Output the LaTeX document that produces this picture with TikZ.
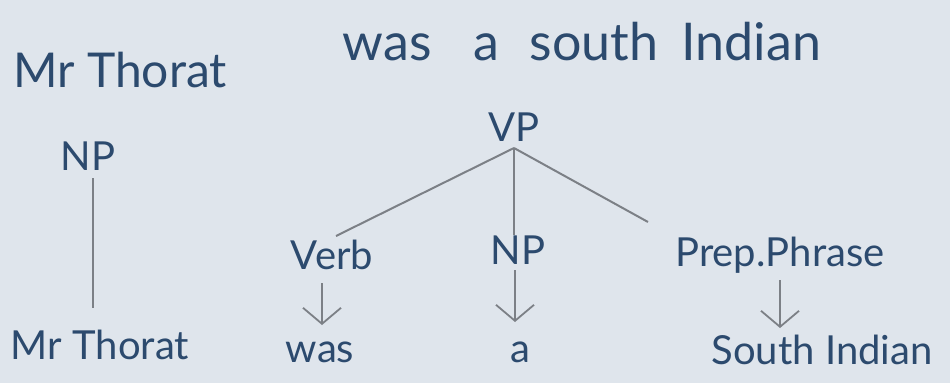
\documentclass[tikz,border=0pt]{standalone}
\usepackage{fontspec}
\setmainfont{Lato}
\usetikzlibrary{arrows.meta}
\definecolor{ink}{HTML}{2C4A6E}
\definecolor{paper}{HTML}{DFE5EC}
\definecolor{pencil}{HTML}{7C8086}
\tikzset{
  word/.style={text=ink, inner sep=0pt, anchor=center},
  big/.style={word, font=\fontsize{48}{52}\selectfont},
  mid/.style={word, font=\fontsize{40}{44}\selectfont},
  edge/.style={draw=pencil, line width=2pt},
  down/.style={draw=pencil, line width=1.8pt, -{Straight Barb[length=16pt,width=38pt,line width=1.8pt]}}
}
\begin{document}
\begin{tikzpicture}[x=1pt,y=-1pt]
\fill[paper] (0,0) rectangle (950,383);
\useasboundingbox (0,0) rectangle (950,383);
% sentence
\node[big] (s1) at (120,70) {Mr Thorat};
\node[word, font=\fontsize{52}{56}\selectfont] (s2) at (582,42) {was\hspace{42pt}a\hspace{30pt}south\hspace{23pt}Indian};
% tree
\node[mid] (np1) at (88,156) {NP};
\node[mid] (mr) at (100,345) {Mr Thorat};
\node[mid] (vp) at (514,127) {VP};
\node[mid] (verb) at (332,255) {Verb};
\node[mid] (np2) at (518,250) {NP};
\node[mid] (pp) at (780,255) {Prep.Phrase};
\node[mid] (was) at (320,352) {was};
\node[mid] (a) at (520,352) {a};
\node[mid] (si) at (822,350) {South Indian};
\coordinate (vpb) at (514,148);
\coordinate (vbt) at (336,236);
\coordinate (ppt) at (648,222);
\draw[edge] (93,178) -- (93,308);
\draw[edge] (vpb) -- (vbt);
\draw[edge] (vpb) -- (np2.north -| vpb);
\draw[edge] (vpb) -- (ppt);
\draw[down] (322,283) -- (322,325);
\draw[down] (515,270) -- (515,322);
\draw[down] (780,280) -- (780,328);
\end{tikzpicture}
\end{document}
